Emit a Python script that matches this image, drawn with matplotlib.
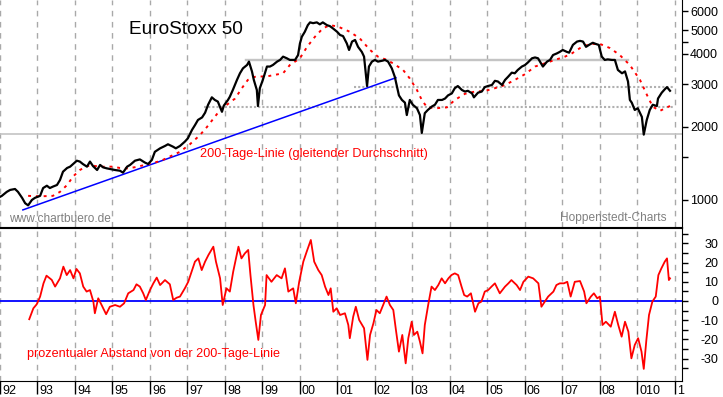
import matplotlib
matplotlib.use('Agg')
import matplotlib.pyplot as plt
import matplotlib.transforms as mtrans
from matplotlib.ticker import FixedLocator, NullFormatter

plt.rcParams['font.family'] = ['Liberation Sans', 'DejaVu Sans']

# ---------------- data ----------------
price_points = [
    (1992.00, 1030), (1992.05, 1040), (1992.18, 1080), (1992.27, 1100), (1992.40, 1110),
    (1992.48, 1080), (1992.59, 1020), (1992.67, 970), (1992.75, 950), (1992.85, 1000),
    (1992.93, 1020), (1993.07, 1040), (1993.15, 1120), (1993.25, 1145), (1993.33, 1120),
    (1993.41, 1135), (1993.52, 1153), (1993.60, 1209), (1993.68, 1308), (1993.79, 1355),
    (1993.87, 1372), (1993.95, 1407), (1994.05, 1452), (1994.13, 1440), (1994.21, 1407),
    (1994.32, 1372), (1994.40, 1440), (1994.48, 1380), (1994.59, 1329), (1994.67, 1395),
    (1994.75, 1363), (1994.85, 1350), (1994.93, 1342), (1995.07, 1329), (1995.20, 1320),
    (1995.28, 1296), (1995.39, 1372), (1995.47, 1395), (1995.60, 1452), (1995.73, 1470),
    (1995.87, 1425), (1995.95, 1407), (1996.05, 1462), (1996.13, 1580), (1996.27, 1633),
    (1996.40, 1670), (1996.48, 1697), (1996.61, 1660), (1996.69, 1633), (1996.80, 1670),
    (1996.93, 1740), (1997.01, 1795), (1997.12, 1944), (1997.20, 2035), (1997.28, 2138),
    (1997.39, 2190), (1997.47, 2290), (1997.55, 2470), (1997.65, 2650), (1997.73, 2585),
    (1997.81, 2545), (1997.92, 2310), (1997.97, 2450), (1998.08, 2585), (1998.13, 2665),
    (1998.21, 2842), (1998.32, 3126), (1998.40, 3330), (1998.48, 3490), (1998.59, 3604),
    (1998.64, 3720), (1998.72, 3390), (1998.77, 3126), (1998.85, 2842), (1998.88, 2440),
    (1998.93, 2890), (1999.01, 3126), (1999.12, 3550), (1999.20, 3550), (1999.28, 3604),
    (1999.39, 3720), (1999.47, 3780), (1999.55, 3900), (1999.65, 3840), (1999.73, 3780),
    (1999.87, 3780), (1999.95, 3960), (2000.00, 4420), (2000.05, 4710), (2000.13, 4940),
    (2000.21, 5260), (2000.27, 5400), (2000.35, 5360), (2000.45, 5400), (2000.53, 5300),
    (2000.61, 5400), (2000.72, 5260), (2000.80, 5210), (2000.88, 5100), (2000.99, 4940),
    (2001.07, 4790), (2001.15, 4740), (2001.25, 4420), (2001.31, 4155), (2001.39, 4500),
    (2001.47, 4570), (2001.55, 4280), (2001.65, 4080), (2001.71, 3900), (2001.79, 2950),
    (2001.84, 3550), (2001.92, 3720), (2002.00, 3780), (2002.08, 3720), (2002.19, 3750),
    (2002.27, 3780), (2002.35, 3720), (2002.45, 3490), (2002.53, 3220), (2002.59, 2920),
    (2002.64, 2700), (2002.72, 2585), (2002.80, 2520), (2002.85, 2240), (2002.93, 2585),
    (2003.01, 2470), (2003.12, 2390), (2003.20, 2240), (2003.25, 1890), (2003.33, 2280),
    (2003.41, 2350), (2003.52, 2430), (2003.60, 2470), (2003.68, 2585), (2003.79, 2585),
    (2003.87, 2620), (2003.95, 2700), (2004.05, 2750), (2004.13, 2890), (2004.21, 2950),
    (2004.32, 2842), (2004.40, 2800), (2004.48, 2820), (2004.59, 2750), (2004.64, 2650),
    (2004.75, 2770), (2004.85, 2800), (2004.93, 2920), (2005.01, 2950), (2005.12, 2980),
    (2005.20, 3100), (2005.28, 3080), (2005.39, 2980), (2005.47, 3126), (2005.55, 3220),
    (2005.65, 3350), (2005.73, 3330), (2005.81, 3437), (2005.92, 3550), (2006.00, 3600),
    (2006.08, 3690), (2006.19, 3840), (2006.27, 3870), (2006.35, 3840), (2006.43, 3660),
    (2006.48, 3550), (2006.59, 3720), (2006.67, 3780), (2006.75, 3960), (2006.85, 4020),
    (2006.93, 4080), (2007.01, 4155), (2007.12, 4080), (2007.18, 4050), (2007.28, 4360),
    (2007.39, 4500), (2007.47, 4530), (2007.55, 4500), (2007.63, 4280), (2007.71, 4360),
    (2007.81, 4450), (2007.89, 4400), (2007.97, 4360), (2008.05, 3900), (2008.13, 3780),
    (2008.21, 3800), (2008.32, 3780), (2008.40, 3780), (2008.48, 3437), (2008.59, 3330),
    (2008.67, 3390), (2008.75, 3080), (2008.80, 2585), (2008.85, 2520), (2008.93, 2350),
    (2009.01, 2390), (2009.12, 2200), (2009.17, 1860), (2009.25, 2138), (2009.33, 2350),
    (2009.41, 2470), (2009.52, 2440), (2009.55, 2620), (2009.65, 2770), (2009.73, 2860),
    (2009.79, 2920), (2009.87, 2820),
]

ma200_points = [
    (1992.75, 1040), (1993.07, 1035), (1993.41, 1040), (1993.60, 1080), (1993.79, 1153),
    (1993.95, 1250), (1994.13, 1329), (1994.32, 1380), (1994.48, 1385), (1994.67, 1370),
    (1994.85, 1372), (1995.01, 1372), (1995.20, 1355), (1995.39, 1350), (1995.60, 1365),
    (1995.87, 1395), (1996.05, 1420), (1996.27, 1445), (1996.53, 1510), (1996.80, 1580),
    (1997.07, 1700), (1997.33, 1850), (1997.52, 2000), (1997.87, 2350), (1998.05, 2470),
    (1998.27, 2620), (1998.45, 2890), (1998.61, 3126), (1998.80, 3220), (1999.15, 3240),
    (1999.55, 3330), (1999.73, 3600), (2000.00, 3840), (2000.19, 4280), (2000.40, 4710),
    (2000.61, 5100), (2000.80, 5260), (2001.01, 5190), (2001.33, 4940), (2001.60, 4630),
    (2001.87, 4155), (2002.08, 3900), (2002.32, 3780), (2002.48, 3660), (2002.75, 3437),
    (2002.93, 3170), (2003.12, 2842), (2003.25, 2585), (2003.39, 2410), (2003.65, 2390),
    (2003.92, 2410), (2004.13, 2585), (2004.40, 2740), (2004.67, 2800), (2004.93, 2815),
    (2005.20, 2890), (2005.47, 2980), (2005.73, 3126), (2006.00, 3300), (2006.27, 3550),
    (2006.53, 3660), (2006.80, 3780), (2007.07, 3900), (2007.25, 4020), (2007.47, 4230),
    (2007.73, 4400), (2008.00, 4400), (2008.27, 4230), (2008.53, 3960), (2008.80, 3600),
    (2009.07, 3126), (2009.28, 2660), (2009.41, 2425), (2009.60, 2330), (2009.79, 2410),
    (2009.87, 2440),
]

distance_points = [
    (1992.78, -9.5), (1992.89, -3.8), (1992.98, -1.7), (1993.07, 2.3), (1993.16, 9.2),
    (1993.24, 13.2), (1993.38, 11.0), (1993.47, 7.5), (1993.60, 11.8), (1993.69, 17.9),
    (1993.78, 13.5), (1993.87, 16.1), (1993.96, 11.8), (1994.04, 16.7), (1994.13, 14.4),
    (1994.22, 7.5), (1994.31, 4.9), (1994.40, 5.7), (1994.49, -0.3), (1994.53, -6.4),
    (1994.62, 1.4), (1994.71, -2.1), (1994.83, -6.9), (1994.93, -3.0), (1995.07, -2.1),
    (1995.20, -3.0), (1995.31, -1.2), (1995.42, 4.0), (1995.56, 5.7), (1995.64, 8.7),
    (1995.73, 7.5), (1995.82, 4.0), (1995.89, 0.5), (1996.00, 5.7), (1996.09, 9.2),
    (1996.18, 12.2), (1996.27, 8.3), (1996.40, 10.9), (1996.53, 8.7), (1996.62, 0.5),
    (1996.71, 1.7), (1996.80, 2.3), (1996.93, 6.6), (1997.02, 10.0), (1997.11, 15.3),
    (1997.20, 20.5), (1997.29, 22.2), (1997.38, 16.1), (1997.47, 20.5), (1997.56, 24.0),
    (1997.69, 28.3), (1997.76, 20.5), (1997.87, 11.8), (1997.94, -2.1), (1998.04, 6.6),
    (1998.13, 4.9), (1998.22, 15.3), (1998.36, 28.3), (1998.44, 22.2), (1998.53, 24.8),
    (1998.62, 26.6), (1998.68, 13.5), (1998.76, -2.1), (1998.82, -10.8), (1998.89, -20.3),
    (1998.96, -7.3), (1999.07, -2.1), (1999.11, 13.5), (1999.24, 10.0), (1999.38, 13.5),
    (1999.51, 11.8), (1999.60, 17.0), (1999.69, 4.9), (1999.82, 6.6), (1999.89, -1.2),
    (1999.98, 10.0), (2000.09, 20.5), (2000.18, 25.7), (2000.29, 31.8), (2000.38, 20.5),
    (2000.49, 16.1), (2000.58, 13.5), (2000.67, 7.5), (2000.76, 3.1), (2000.82, 6.6),
    (2000.89, -5.6), (2000.98, -3.8), (2001.07, -7.3), (2001.20, -6.4), (2001.29, -12.5),
    (2001.33, -19.4), (2001.42, -8.2), (2001.49, -3.0), (2001.58, -9.9), (2001.71, -14.2),
    (2001.80, -30.7), (2001.87, -17.7), (2001.96, -11.6), (2002.04, -4.7), (2002.13, -6.4),
    (2002.22, -2.1), (2002.31, 2.3), (2002.40, -2.1), (2002.49, -4.7), (2002.56, -15.1),
    (2002.64, -26.4), (2002.73, -17.7), (2002.82, -32.5), (2002.89, -19.4), (2002.98, -10.8),
    (2003.04, -17.7), (2003.13, -16.0), (2003.20, -21.2), (2003.27, -27.3), (2003.33, -12.5),
    (2003.42, -2.1), (2003.51, 7.5), (2003.60, 5.7), (2003.69, 8.3), (2003.78, 11.8),
    (2003.87, 9.2), (2003.96, 11.8), (2004.04, 13.5), (2004.13, 14.4), (2004.22, 13.5),
    (2004.31, 7.5), (2004.38, 3.1), (2004.46, 2.3), (2004.56, 4.0), (2004.67, -5.6),
    (2004.76, -1.2), (2004.84, -0.3), (2004.93, 4.9), (2005.02, 5.7), (2005.11, 7.5),
    (2005.20, 9.2), (2005.33, 4.0), (2005.47, 7.5), (2005.56, 9.2), (2005.64, 10.9),
    (2005.78, 8.3), (2005.87, 5.7), (2005.96, 10.0), (2006.09, 12.7), (2006.22, 11.8),
    (2006.36, 9.2), (2006.44, -3.0), (2006.53, -0.3), (2006.62, 2.3), (2006.76, 4.9),
    (2006.84, 8.3), (2006.93, 9.2), (2007.04, 9.2), (2007.13, 10.0), (2007.22, 2.3),
    (2007.33, 10.0), (2007.47, 10.4), (2007.58, 4.9), (2007.64, -1.2), (2007.76, 2.3),
    (2007.84, 4.0), (2007.93, 1.4), (2008.00, 2.3), (2008.07, -12.5), (2008.16, -10.8),
    (2008.29, -13.4), (2008.40, -5.6), (2008.49, -12.5), (2008.58, -18.6), (2008.67, -10.8),
    (2008.76, -16.0), (2008.84, -29.9), (2008.93, -22.9), (2009.02, -19.4), (2009.11, -26.4),
    (2009.17, -35.4), (2009.24, -20.3), (2009.31, -7.3), (2009.40, -0.3), (2009.49, 2.3),
    (2009.56, 13.5), (2009.64, 17.0), (2009.73, 20.5), (2009.79, 22.2), (2009.84, 10.9),
    (2009.87, 11.8),
]

trend_line = [(1992.61, 910), (2002.56, 3192)]
support_solid = [(1992.0, 1872), (2010.19, 1872)]
resistance_double = [(1998.53, 3811), (2008.75, 3811), (1998.53, 3775), (2008.75, 3775)]
level_2915 = [(2001.44, 2915), (2009.97, 2915)]
level_2426 = [(1997.44, 2426), (2009.97, 2426)]

year_ticks = list(range(1992, 2011))
year_labels = ['92', '93', '94', '95', '96', '97', '98', '99', '00', '01', '02',
               '03', '04', '05', '06', '07', '08', '010', '1']
price_ticks = [1000, 2000, 3000, 4000, 5000, 6000]
price_minor = [1500, 4500]
dist_ticks = [-30, -20, -10, 0, 10, 20, 30]
dist_minor = [-35, -25, -15, -5, 5, 15, 25, 35]

# ---------------- layout ----------------
W, H = 723, 397
fig = plt.figure(figsize=(W / 100, H / 100), dpi=100)
fig.patch.set_facecolor('white')


def px_rect(x0, y0, x1, y1):
    return [x0 / W, 1 - y1 / H, (x1 - x0) / W, (y1 - y0) / H]


ax1 = fig.add_axes(px_rect(0, 0, 682, 227.5))
ax2 = fig.add_axes(px_rect(0, 227.5, 682, 381))

XMIN, XMAX = 1992.0, 2010.19
grid_kw = dict(color='#a9a9a9', lw=1.0, ls=(0, (4, 4)), zorder=1)

# ---------------- top panel ----------------
ax1.set_yscale('log')
ax1.set_xlim(XMIN, XMAX)
ax1.set_ylim(770, 6678)
for yr in year_ticks:
    ax1.axvline(yr, **grid_kw)

ax1.plot(*zip(*support_solid), color='#c4c4c4', lw=1.2, zorder=2)
ax1.plot(*zip(*resistance_double[:2]), color='#c4c4c4', lw=1.0, zorder=2)
ax1.plot(*zip(*resistance_double[2:]), color='#c4c4c4', lw=1.0, zorder=2)
ax1.plot(*zip(*level_2915), color='#b0b0b0', lw=1.5, ls=(0, (1, 1)), zorder=2)
ax1.plot(*zip(*level_2426), color='#b0b0b0', lw=1.5, ls=(0, (1, 1)), zorder=2)
ax1.plot(*zip(*trend_line), color='#0000ff', lw=1.1, zorder=3)
ax1.plot(*zip(*ma200_points), color='#ff0000', lw=1.4, ls=(0, (1.5, 2.5)), zorder=4)
ax1.plot(*zip(*price_points), color='black', lw=1.6, zorder=5)

ax1.yaxis.tick_right()
ax1.yaxis.set_major_locator(FixedLocator(price_ticks))
ax1.yaxis.set_minor_locator(FixedLocator(price_minor))
ax1.yaxis.set_minor_formatter(NullFormatter())
ax1.set_yticklabels([str(v) for v in price_ticks])
ax1.tick_params(axis='y', which='both', direction='out', length=4, width=1,
                pad=22, labelsize=9, colors='black')
for lbl in ax1.get_yticklabels():
    lbl.set_horizontalalignment('right')
ax1.tick_params(axis='x', bottom=False, labelbottom=False)
for s in ['top', 'left']:
    ax1.spines[s].set_visible(False)
ax1.spines['right'].set_color('black')
ax1.spines['bottom'].set_color('black')

# ---------------- bottom panel ----------------
ax2.set_xlim(XMIN, XMAX)
ax2.set_ylim(-41.7, 38.3)
for yr in year_ticks:
    ax2.axvline(yr, **grid_kw)
ax2.axhline(0, color='#0000ff', lw=1.3, zorder=3)
ax2.plot(*zip(*distance_points), color='#ff0000', lw=1.3, zorder=4)

ax2.yaxis.tick_right()
ax2.yaxis.set_major_locator(FixedLocator(dist_ticks))
ax2.yaxis.set_minor_locator(FixedLocator(dist_minor))
ax2.set_yticklabels([str(v) for v in dist_ticks])
ax2.tick_params(axis='y', which='both', direction='out', length=4, width=1,
                pad=22, labelsize=9)
for lbl in ax2.get_yticklabels():
    lbl.set_horizontalalignment('right')

ax2.set_xticks(year_ticks)
ax2.set_xticklabels([])
ax2.tick_params(axis='x', direction='out', length=9.4, width=1)
xtrans = mtrans.blended_transform_factory(ax2.transData, ax2.transAxes)
xtrans = mtrans.offset_copy(xtrans, fig=fig, x=2, y=-13, units='dots')
for yr, lab in zip(year_ticks, year_labels):
    ax2.text(yr, 0, lab, transform=xtrans, ha='left', va='baseline',
             fontsize=9, clip_on=False)
ax2.spines['left'].set_visible(False)
for s in ['top', 'right', 'bottom']:
    ax2.spines[s].set_color('black')


# ---------------- texts ----------------
def ftext(x, y, s, **kw):
    fig.text(x / W, 1 - y / H, s, va='baseline', ha='left', **kw)


ftext(129, 34, 'EuroStoxx 50', fontsize=13.7, color='black')
ftext(200, 157, '200-Tage-Linie (gleitender Durchschnitt)', fontsize=9.2, color='#ff0000')
ftext(9, 222, 'www.chartbuero.de', fontsize=8.6, color='#808080')
ftext(560, 221, 'Hoppenstedt-Charts', fontsize=8.6, color='#808080')
ftext(27, 357.5, 'prozentualer Abstand von der 200-Tage-Linie', fontsize=9.1, color='#ff0000')

fig.savefig('out.png', dpi=100, facecolor='white')
